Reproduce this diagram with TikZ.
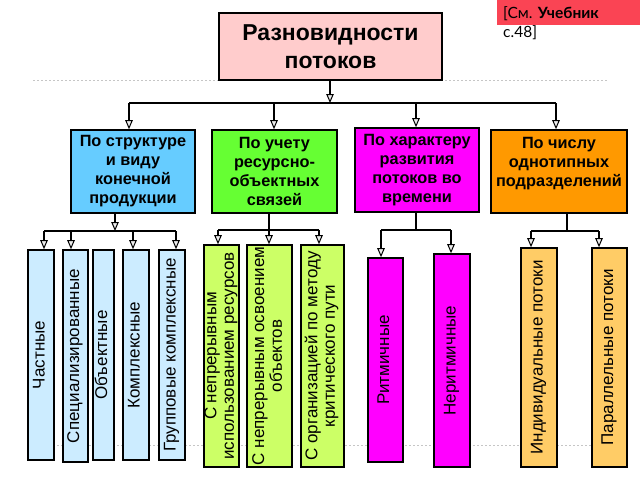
\documentclass[tikz,border=0pt]{standalone}
\usepackage{fontspec}
\setmainfont{Liberation Sans}
\newfontfamily\labfont{Lato}
\usetikzlibrary{arrows.meta}
\definecolor{titlepink}{HTML}{FFCCCC}
\definecolor{cblue}{HTML}{66CCFF}
\definecolor{cgreen}{HTML}{66FF33}
\definecolor{cmag}{HTML}{FF00FF}
\definecolor{corange}{HTML}{FF9900}
\definecolor{lblue}{HTML}{CCECFF}
\definecolor{lgreen}{HTML}{CCFF66}
\definecolor{lorange}{HTML}{FFCC66}
\definecolor{labred}{HTML}{FA4454}
\newcommand{\vtext}[1]{\rotatebox{90}{\begin{tabular}{@{}c@{}}#1\end{tabular}}}
\begin{document}
\begin{tikzpicture}[x=1pt,y=-1pt,
  box/.style={draw=black, line width=1.6pt, inner sep=0pt, align=center},
  lvltwo/.style={box, font=\bfseries\fontsize{16.3}{19}\selectfont},
  lvlthree/.style={box, font=\fontsize{17}{17.5}\selectfont},
  conn/.style={draw=black, line width=1.3pt},
  arr/.style={-{Triangle[length=9pt,width=7.5pt,fill=gray!15,line width=1pt]}},
  guide/.style={draw=gray!45, line width=0.8pt, dash pattern=on 2pt off 2pt}]
\useasboundingbox (0,0) rectangle (640,480);
\fill[white] (0,0) rectangle (640,480);

% guide lines
\coordinate (gA) at (33,80);  \coordinate (gB) at (608,80);
\coordinate (gC) at (33,445); \coordinate (gD) at (610,445);
\draw[guide] (gA) -- (gB);
\draw[guide] (gC) -- (gD);

% reference label
\node[fill=labred, inner sep=0pt, minimum width=143pt, minimum height=25pt, anchor=north west] (ref) at (497,0) {};
\node[anchor=base west, inner sep=0pt, font=\labfont\fontsize{15.5}{17}\selectfont] (reftext) at (503,18) {[См. \textbf{Учебник}};
\node[anchor=base west, inner sep=0pt, font=\labfont\fontsize{15.5}{17}\selectfont] (refpage) at (503,37) {с.48]};

% title
\node[box, fill=titlepink, minimum width=223pt, minimum height=67pt,
      font=\bfseries\fontsize{23}{28}\selectfont] (title) at (330.5,46.5) {Разновидности\\потоков};

% level 2
\node[lvltwo, fill=cblue, minimum width=124pt, minimum height=83pt] (blue) at (133,171.5)
  {По структуре\\и виду\\конечной\\продукции};
\node[lvltwo, fill=cgreen, minimum width=125pt, minimum height=83pt] (green) at (274.5,171.5)
  {По учету\\ресурсно-\\объектных\\связей};
\node[lvltwo, fill=cmag, minimum width=124pt, minimum height=84pt] (mag) at (417,170)
  {По характеру\\развития\\потоков во\\времени};
\node[lvltwo, fill=corange, minimum width=136pt, minimum height=83pt] (orange) at (559,171.5)
  {По числу\\однотипных\\подразделений\\\mbox{}};

% level 3 - blue
\node[lvlthree, fill=lblue, minimum width=26pt, minimum height=210pt] (c1) at (41,355) {\vtext{Частные}};
\node[lvlthree, fill=lblue, minimum width=25pt, minimum height=212pt] (c2) at (75.5,356) {\vtext{Специализированные}};
\node[lvlthree, fill=lblue, minimum width=21pt, minimum height=210pt] (c3) at (103.5,355) {\vtext{Объектные}};
\node[lvlthree, fill=lblue, minimum width=26pt, minimum height=210pt] (c4) at (136,355) {\vtext{Комплексные}};
\node[lvlthree, fill=lblue, minimum width=26pt, minimum height=210pt] (c5) at (172,355) {\vtext{Групповые комплексные}};

% level 3 - green
\node[lvlthree, fill=lgreen, minimum width=35pt, minimum height=222pt] (g1) at (221.5,356) {\vtext{С непрерывным\\использованием ресурсов}};
\node[lvlthree, fill=lgreen, minimum width=45pt, minimum height=222pt] (g2) at (269.5,356) {\vtext{С непрерывным освоением\\объектов}};
\node[lvlthree, fill=lgreen, minimum width=43pt, minimum height=222pt] (g3) at (322.5,356) {\vtext{С организацией по методу\\критического пути}};

% level 3 - magenta
\node[lvlthree, fill=cmag, minimum width=35pt, minimum height=204pt] (m1) at (385.5,360) {\vtext{Ритмичные}};
\node[lvlthree, fill=cmag, minimum width=36pt, minimum height=213pt] (m2) at (452,360.5) {\vtext{Неритмичные}};

% level 3 - orange
\node[lvlthree, fill=lorange, minimum width=36pt, minimum height=219pt] (o1) at (539,357.5) {\vtext{Индивидуальные потоки}};
\node[lvlthree, fill=lorange, minimum width=35pt, minimum height=219pt] (o2) at (609.5,357.5) {\vtext{Параллельные потоки}};

% top connectors
\coordinate (t0) at (330,103);
\coordinate (tB) at (129,103);
\coordinate (tG) at (274,103);
\coordinate (tM) at (416,103);
\coordinate (tO) at (556,103);
\draw[conn,arr] (title.south -| t0) -- (t0);
\draw[conn] (tB) -- (tO);
\draw[conn,arr] (tB) -- (tB |- blue.north);
\draw[conn,arr] (tG) -- (tG |- green.north);
\draw[conn,arr] (tM) -- (tM |- mag.north);
\draw[conn,arr] (tO) -- (tO |- orange.north);

% blue group
\coordinate (bs) at (115,231);
\coordinate (b1) at (44,231);
\coordinate (b2) at (71,231);
\coordinate (b4) at (133,231);
\coordinate (b5) at (176,231);
\draw[conn,arr] (blue.south -| bs) -- (bs);
\draw[conn] (b1) -- (b5);
\draw[conn,arr] (b1) -- (b1 |- c1.north);
\draw[conn,arr] (b2) -- (b2 |- c2.north);
\draw[conn,arr] (b4) -- (b4 |- c4.north);
\draw[conn,arr] (b5) -- (b5 |- c5.north);

% green group
\coordinate (gs) at (269,230);
\coordinate (gl) at (218,230);
\coordinate (gr) at (319,230);
\draw[conn] (green.south -| gs) -- (gs);
\draw[conn] (gl) -- (gr);
\draw[conn,arr] (gl) -- (gl |- g1.north);
\draw[conn,arr] (gs) -- (gs |- g2.north);
\draw[conn,arr] (gr) -- (gr |- g3.north);

% magenta group
\coordinate (ms) at (416,230);
\coordinate (ml) at (381,230);
\coordinate (mr) at (451,230);
\draw[conn] (mag.south -| ms) -- (ms);
\draw[conn] (ml) -- (mr);
\draw[conn,arr] (ml) -- (ml |- m1.north);
\draw[conn,arr] (mr) -- (mr |- m2.north);

% orange group
\coordinate (os) at (567,231);
\coordinate (ol) at (531,231);
\coordinate (or) at (599,231);
\draw[conn] (orange.south -| os) -- (os);
\draw[conn] (ol) -- (or);
\draw[conn,arr] (ol) -- (ol |- o1.north);
\draw[conn,arr] (or) -- (or |- o2.north);
\end{tikzpicture}
\end{document}
